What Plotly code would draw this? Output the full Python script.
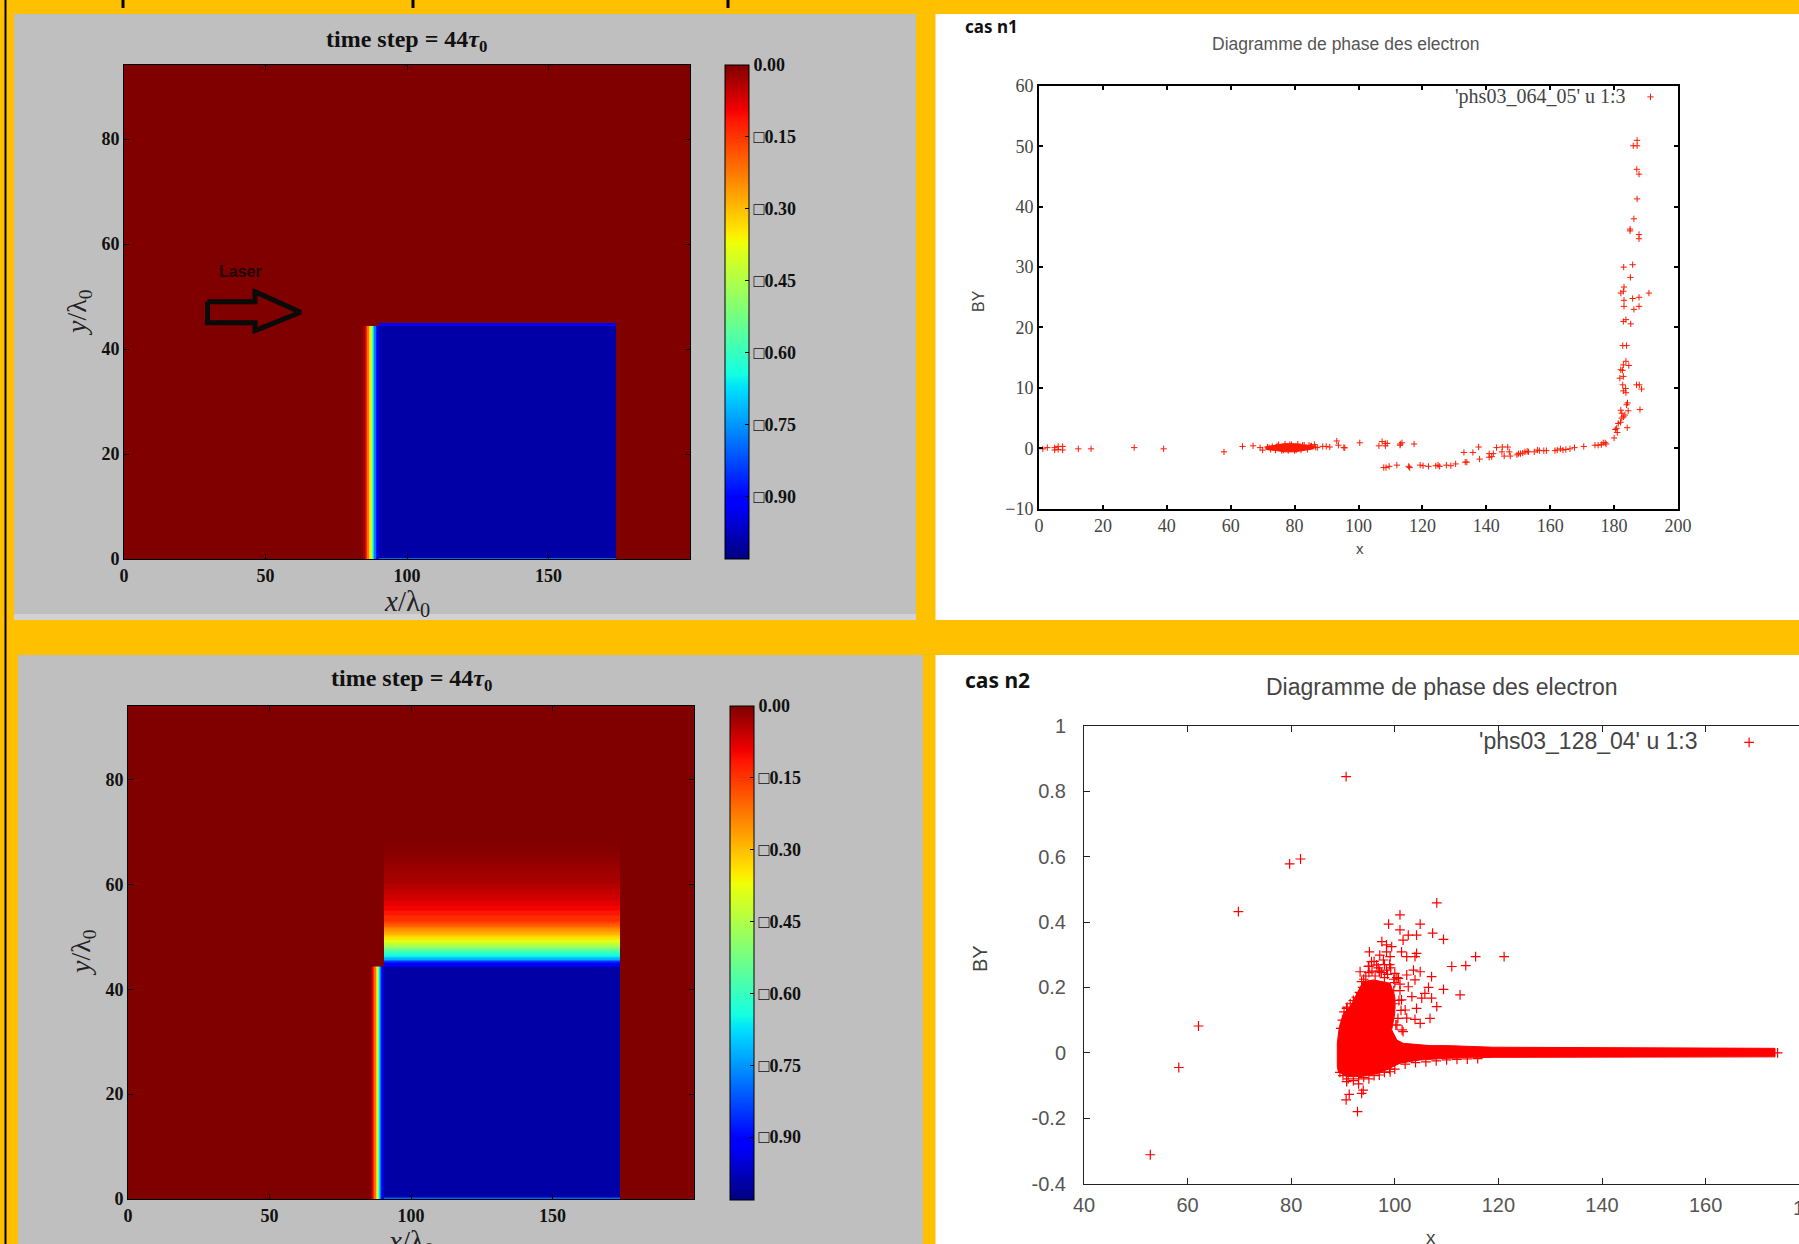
import plotly.graph_objects as go

W, H = 1799, 1244
def px(x): return x / W
def py(y): return 1 - y / H

# ---------- field maps ----------
jet = [[0, '#000080'], [.11, '#0000ff'], [.125, '#0000ff'], [.34, '#00dbff'], [.35, '#00e5f7'],
       [.375, '#14ffe2'], [.64, '#eeff08'], [.65, '#f7f500'], [.66, '#ffeb00'], [.89, '#ff1400'],
       [.91, '#f20000'], [1, '#800000']]
cbar_vals = [0, -0.15, -0.30, -0.45, -0.60, -0.75, -0.90]
cbar_text = ['0.00', '□0.15', '□0.30', '□0.45', '□0.60', '□0.75', '□0.90']
map_xticks = [0, 50, 100, 150]
map_yticks = [0, 20, 40, 60, 80]

ramp_1 = [84.5, 85, 85.5, 86, 86.5, 87, 87.5, 88, 88.5, 89, 89.5, 90]
ramp_3 = [85.9, 86.3, 86.7, 87.1, 87.5, 87.9, 88.3, 88.7, 89.1, 89.5, 89.9, 90.4]
ramp_vals = [-0.03, -0.08, -0.13, -0.22, -0.32, -0.42, -0.55, -0.68, -0.78, -0.88, -0.94]
block_val = -0.995
edge_top_val = -0.917
edge_bottom_val = -0.80

x_edges_1 = [0] + ramp_1 + [173.7, 200]
y_edges_1 = [0, 0.25, 44.3, 45, 94.1]
x_edges_3 = [0] + ramp_3 + [173.8, 200]
y_edges_3 = [0, 0.25, 44.3, 45.1, 45.5, 46, 46.5, 47, 47.5, 48, 48.5, 49, 49.5, 50, 50.5, 51, 51.5, 52,
             52.5, 53, 54, 55, 56, 57, 58, 59, 60, 61, 62, 63, 64, 65, 66, 67, 68, 94.1]
wake_vals = [-0.85, -0.72, -0.66, -0.62, -0.57, -0.51, -0.46, -0.42, -0.38, -0.34, -0.31, -0.28, -0.25,
             -0.22, -0.19, -0.165, -0.14, -0.115, -0.095, -0.08, -0.065, -0.055, -0.045, -0.035, -0.03,
             -0.025, -0.02, -0.015, -0.01, -0.006, -0.003, 0]

laser_x = [29.5, 46.3, 46.3, 62.4, 46.3, 46.3, 29.5, 29.5]
laser_y = [49, 49, 50.9, 47, 43.5, 45, 45, 49]

def row(ramp, block):
    return [0] + ramp + [block, 0]

blank = [0] * 11
z_1 = [row(ramp_vals, edge_bottom_val), row(ramp_vals, block_val),
       row(blank, edge_top_val), row(blank, 0)]
z_3 = [row(ramp_vals, edge_bottom_val), row(ramp_vals, block_val), row(blank, edge_top_val)] + \
      [row(blank, v) for v in wake_vals]

# ---------- phase diagram, case 1 ----------
n1_x = [1.2, 2.6, 4.9, 4.9, 6, 6, 7.4, 7.4, 12.3, 16.3, 29.8, 39, 57.9, 63.7, 67, 69.2, 70, 71.5, 85.3, 86.2,
        87.1, 88.8, 89.9, 91, 93.2, 93.7, 95.4, 95.7, 100.4, 106.4, 107.4, 108.4, 109, 108.4, 113.1, 113.6, 113,
        117.4, 107.9, 108.6, 109.6, 112, 115.7, 116, 119.3, 120.2, 121.9, 124.2, 124.9, 125.4, 127.5, 128.9,
        130.4, 133.4, 133.9, 133, 135.8, 137.6, 137.9, 140.9, 140.9, 141.7, 142.2, 143.2, 145, 144.9, 146.7,
        145.6, 147.5, 147.2, 149.6, 150.1, 150.7, 151.4, 152.1, 152.8, 153.2, 155, 156, 156.6, 158, 158.8,
        161.5, 162.2, 163.2, 164, 164.9, 166.2, 167.6, 170.5, 174, 175, 176, 176.6, 177.2, 177.5,
        180, 181, 180.8, 180.4, 181.3, 182, 184.1, 182.4, 182.9, 182.4, 182.1, 183.4, 184.4, 183.9, 184.2, 188.1,
        183.7, 182.9, 183.6, 182.7, 187, 187.9, 188.6, 181.8, 182.9, 182.1, 182.6, 182.9, 184.6, 183.7,
        182.7, 183.9, 182.9, 183.7, 185.2, 183.1, 186.2, 187.8, 183.1, 185.8, 187.8, 190.9, 182.1, 182.9, 183.1,
        183, 185.8, 185.1, 185, 185, 187.8, 187.8, 186.2, 187.2, 187.8, 187.1, 187.2, 186, 187.2,
        72, 73, 74, 75, 76, 77, 78, 79, 80, 81, 82, 83, 84, 85, 72.5, 74.5, 76.5, 78.5, 80.5, 82.5, 84.5, 86.5]
n1_y = [-.1, .1, .1, -.3, .3, -.2, .3, -.3, -.1, -.1, .1, -.1, -.6, .3, .4, .1, -.3, .2, .4, .6,
        .1, .3, .3, .2, 1.2, .5, .1, .07, .9, .4, 1.1, .8, .8, .4, .7, .9, .5,
        .7, -3.2, -3.2, -3, -2.8, -3, -3.2, -2.8, -2.9, -3, -2.9, -2.8, -3, -2.8, -2.9,
        -2.6, -2.3, -2.3, -.7, -.7, .2, -1.8, -.9, -1.5, -1.4, -.9, .1, .2, -.6, .2,
        -1.3, -1.3, -.6, -1.1, -.9, -.9, -.8, -.6, -.5, -.6, -.6, -.3, -.4, -.4, -.4,
        -.4, -.3, -.1, -.3, -.2, -.1, .1, .3, .5, .5, .6, .9, .9, .7,
        1.7, 2.6, 3.3, 3.1, 4.1, 4.3, 3.4, 5, 5.2, 5.8, 6.3, 5.5, 6.2, 7.2, 7.5, 6.4,
        9.2, 9.5, 9.9, 10.5, 10.5, 10.5, 9.8, 11.6, 11.9, 13, 12.9, 13.8, 13.7, 14.4,
        17, 17, 21, 21.3, 20.6, 23.5, 23, 23.5, 24.5, 24.8, 25, 25.7, 25.7, 26, 26.7,
        30, 30.4, 28.3, 36, 36.3, 35.4, 34.7, 38, 41.3, 45.4, 46.2, 50.1, 50.1, 51,
        .1, .3, -.3, .6, -.4, .7, -.4, .6, -.4, .7, -.3, .5, -.2, .3, -.2, .4, -.3, .6, -.3, .5, .5, .2]
n1_mass_x = [71, 74, 77, 80, 83, 86, 86, 83, 80, 77, 74, 71]
n1_mass_y = [.25, .55, .75, .75, .55, .25, -.1, -.35, -.6, -.6, -.4, -.15]
n1_key_x, n1_key_y = [191.4], [58.2]
n1_xticks = list(range(0, 201, 20))
n1_yticks = list(range(-10, 61, 10))

# ---------- phase diagram, case 2 ----------
n2_x = [52.8, 58.3, 62.1, 69.8, 79.7, 81.8, 90.6, 97.1, 95.5, 94.9, 96.5, 97.8, 99.1, 98.4, 100, 97.1, 100.7,
        102.3, 103.6, 104.9, 103.9, 102.6, 103.3, 101.3, 102, 104.2, 102.3, 103.9, 100.4, 101.6, 93.3, 93.6,
        90.7, 97.5, 98.4, 99.4, 101.3, 101.6, 102.6, 104.2, 101, 98.8, 101, 104.9, 95.1, 98.4, 104.2, 102.3,
        103.9, 107.1, 106.5, 105.8, 107.1, 105.2, 108.1, 106.8, 104.9, 109.4, 112.6, 111, 113.7, 115.6, 121.1,
        109.4, 107.3, 108.1, 99.1, 93, 90.7, 93.9, 93.6, 91.2, 90.6, 92.8, 173.9,
        # fringe of the dense cloud
        94.4, 95, 95.6, 96.2, 96.8, 97.4, 98, 98.6, 99.2, 99.8, 100.4, 101, 94, 95, 96, 97, 98, 99, 100, 101,
        90.2, 90.8, 91.4, 92, 92.6, 93.2, 93.8, 89.6, 89.9, 100.8, 101.2, 100.6, 100.2, 101.4, 100, 99.8,
        92, 93, 94, 95, 96, 97, 98, 99, 91, 90, 89.4, 100, 102, 104, 106, 108, 110, 112, 114, 116]
n2_y = [-.312, -.045, .082, .432, .578, .593, .845, .299, .279, .264, .269, .284, .294, .253, .243, .248, .228,
        .238, .253, .248, .223, .202, .172, .162, .131, .136, .106, .102, .085, .065, .248, .218,
        .136, .340, .330, .325, .309, .345, .360, .360, .376, .394, .422, .394, .309, .309, .304, .294,
        .294, .233, .20, .182, .167, .167, .141, .105, .09, .194, .177, .264, .267, .294, .294,
        .347, .366, .459, -.058, -.095, -.088, -.114, -.124, -.127, -.144, -.18, 0,
        .235, .245, .25, .235, .26, .245, .27, .24, .26, .225, .23, .21, .225, .265, .28, .25, .23, .27, .215, .19,
        .125, .14, .15, .16, .17, .185, .2, .075, .1, .16, .13, .105, .085, .07, .15, .19,
        -.085, -.08, -.075, -.08, -.07, -.068, -.06, -.05, -.08, -.07, -.06, -.05, -.035, -.03, -.028, -.025,
        -.022, -.02, -.019, -.018]
n2_mass_x = [88.9, 88.9, 89.3, 90.1, 91.4, 93, 93.9, 95.9, 99.1, 100, 100, 99.4, 100.4, 101.6, 106.8, 110, 119,
             173.4, 173.4, 119, 110, 104.9, 101, 97.1, 93.3, 90.7, 89.1]
n2_mass_y = [-.042, .029, .08, .121, .141, .192, .218, .223, .213, .172, .121, .07, .039, .029, .022, .022, .017,
             .0136, -.0125, -.014, -.017, -.022, -.032, -.062, -.073, -.073, -.058]
n2_key_x, n2_key_y = [168.4], [.95]
n2_xticks = list(range(40, 161, 20))
n2_yticks = [-0.4, -0.2, 0, 0.2, 0.4, 0.6, 0.8, 1]
n2_ytext = ['-0.4', '-0.2', '0', '0.2', '0.4', '0.6', '0.8', '1']

SERIF = 'Liberation Serif'
SANS = 'Liberation Sans'
fig = go.Figure()

def heat(x, y, z, xa, ya, cb_left, cb_top, cb_len):
    fig.add_trace(go.Heatmap(
        x=x, y=y, z=z, xaxis=xa, yaxis=ya, colorscale=jet, zmin=-1.03, zmax=0, hoverinfo='skip',
        colorbar=dict(x=px(cb_left), xanchor='left', xpad=0, ypad=0, y=py(cb_top), yanchor='top',
                      lenmode='pixels', len=cb_len, thickness=24, thicknessmode='pixels',
                      tickmode='array', tickvals=cbar_vals, ticktext=cbar_text, ticks='inside', ticklen=4,
                      tickcolor='black', outlinecolor='black', outlinewidth=1, borderwidth=0,
                      tickfont=dict(family=SERIF, size=18, color='#111', weight='bold'))))

heat(x_edges_1, y_edges_1, z_1, 'x', 'y', 725, 65, 494)
heat(x_edges_3, y_edges_3, z_3, 'x3', 'y3', 730, 705.5, 493.5)
fig.add_trace(go.Scatter(x=laser_x, y=laser_y, xaxis='x', yaxis='y', mode='lines', hoverinfo='skip',
                         line=dict(color='#0a0a0a', width=5), showlegend=False))

def mass(x, y, xa, ya, color):
    fig.add_trace(go.Scatter(x=x + x[:1], y=y + y[:1], xaxis=xa, yaxis=ya, mode='lines', fill='toself', fillcolor=color,
                             line=dict(color=color, width=1), hoverinfo='skip'))
def pts(x, y, xa, ya, color, size, lw):
    fig.add_trace(go.Scatter(x=x, y=y, xaxis=xa, yaxis=ya, mode='markers', hoverinfo='skip', cliponaxis=True,
                             marker=dict(symbol='cross-thin', size=size, line=dict(color=color, width=lw))))

RED1, RED2 = '#ff1a00', '#ff0000'
mass(n1_mass_x, n1_mass_y, 'x2', 'y2', RED1)
pts(n1_x + n1_key_x, n1_y + n1_key_y, 'x2', 'y2', RED1, 4.5, 1)
mass(n2_mass_x, n2_mass_y, 'x4', 'y4', RED2)
pts(n2_x + n2_key_x, n2_y + n2_key_y, 'x4', 'y4', RED2, 7, 1.2)

def dom(a, b, total): return [a / total, b / total]
def ydom(top, bot): return [1 - bot / H, 1 - top / H]

map_axis = dict(ticks='inside', ticklen=5, tickcolor='black', showline=True, linecolor='black', linewidth=1,
                mirror='allticks', showgrid=False, zeroline=False,
                tickfont=dict(family=SERIF, size=18, color='#111', weight='bold'))
n1_axis = dict(ticks='inside', ticklen=4, tickwidth=2, tickcolor='black', showline=True, linecolor='black', linewidth=2,
               mirror='allticks', showgrid=False, zeroline=False, tickfont=dict(family=SERIF, size=18, color='#444'))
n2_axis = dict(ticks='inside', ticklen=6, tickwidth=1, tickcolor='#222', showline=True, linecolor='#222', linewidth=1,
               showgrid=False, zeroline=False, tickfont=dict(family=SANS, size=20, color='#555'))

fig.update_layout(
    width=W, height=H, margin=dict(l=0, r=0, t=0, b=0, autoexpand=False), autosize=False, showlegend=False,
    paper_bgcolor='#FFC000', plot_bgcolor='rgba(0,0,0,0)',
    xaxis=dict(map_axis, domain=dom(124, 690, W), range=[0, 200], anchor='y', tickvals=map_xticks),
    yaxis=dict(map_axis, domain=ydom(65, 559), range=[0, 94.1], anchor='x', tickvals=map_yticks),
    xaxis3=dict(map_axis, domain=dom(128, 694, W), range=[0, 200], anchor='y3', tickvals=map_xticks),
    yaxis3=dict(map_axis, domain=ydom(705.5, 1199), range=[0, 94.1], anchor='x3', tickvals=map_yticks),
    xaxis2=dict(n1_axis, domain=dom(1039, 1678, W), range=[0, 200], anchor='y2', tickvals=n1_xticks),
    yaxis2=dict(n1_axis, domain=ydom(86, 508.6), range=[-10, 60], anchor='x2', tickvals=n1_yticks),
    xaxis4=dict(n2_axis, mirror='allticks', domain=dom(1084, W, W), range=[40, 178.03], anchor='y4',
                tickvals=n2_xticks, ticklabelstandoff=3),
    yaxis4=dict(n2_axis, domain=ydom(726, 1183.5), range=[-0.4, 1], anchor='x4', tickvals=n2_yticks,
                ticktext=n2_ytext, ticklabelstandoff=13),
)

def rect(x0, y0, x1, y1, color):
    return dict(type='rect', xref='paper', yref='paper', x0=px(x0), x1=px(x1), y0=py(y0), y1=py(y1),
                fillcolor=color, line_width=0, layer='below')
def vbar(x, y0, y1, w):
    return dict(type='line', xref='paper', yref='paper', x0=px(x), x1=px(x), y0=py(y0), y1=py(y1),
                line=dict(color='black', width=w), layer='below')
fig.update_layout(shapes=[
    rect(14, 14, 916, 620, '#D2D2D2'), rect(14, 14, 916, 614, '#BFBFBF'),
    rect(18, 655, 923, 1244, '#BFBFBF'),
    rect(935.5, 14, W, 620, '#FFFFFF'), rect(935.5, 655, W, 1244, '#FFFFFF'),
    vbar(5.5, 0, H, 2), vbar(123, 0, 8, 3), vbar(413, 0, 8, 3), vbar(728, 0, 8, 3),
])

def note(x, y, text, family, size, color='#222', weight='normal', anchor='center', angle=0):
    return dict(xref='paper', yref='paper', x=px(x), y=py(y), text=text, showarrow=False, xanchor=anchor, yanchor='middle',
                textangle=angle, font=dict(family=family, size=size, color=color, weight=weight))
fig.update_layout(annotations=[
    note(406, 41, 'time step = 44<i>τ</i><sub>0</sub>', SERIF, 24, '#111', 'bold'),
    note(407, 603, '<i>x</i>/λ<sub>0</sub>', SERIF, 29),
    note(78, 313, '<i>y</i>/λ<sub>0</sub>', SERIF, 28, angle=-90),
    note(240, 271, 'Laser', SANS, 16, '#200000', 'bold'),
    note(411, 680, 'time step = 44<i>τ</i><sub>0</sub>', SERIF, 24, '#111', 'bold'),
    note(411, 1243, '<i>x</i>/λ<sub>0</sub>', SERIF, 29),
    note(83, 953, '<i>y</i>/λ<sub>0</sub>', SERIF, 28, angle=-90),
    note(963, 27, 'cas n1', 'Noto Sans', 17, '#111', 'bold', 'left'),
    note(1346, 44, 'Diagramme de phase des electron', SANS, 17.5, '#555'),
    note(1628, 96, "'phs03_064_05' u 1:3", SERIF, 20, '#444', anchor='right'),
    note(979, 301, 'BY', SANS, 16, '#444', angle=-90),
    note(1360, 548, 'x', SANS, 15, '#444'),
    note(963, 680, 'cas n2', 'Noto Sans', 21, '#111', 'bold', 'left'),
    note(1442, 687, 'Diagramme de phase des electron', SANS, 23, '#444'),
    note(1700, 741, "'phs03_128_04' u 1:3", SANS, 23, '#444', anchor='right'),
    note(980, 958, 'BY', SANS, 20, '#444', angle=-90),
    note(1430.5, 1237, 'x', SANS, 19, '#444'),
    note(1809, 1208, '180', SANS, 20, '#555'),
])

fig.write_html("out.html", config=dict(displayModeBar=False),
               post_script="document.body.style.margin='0';document.body.style.overflow='hidden';")
